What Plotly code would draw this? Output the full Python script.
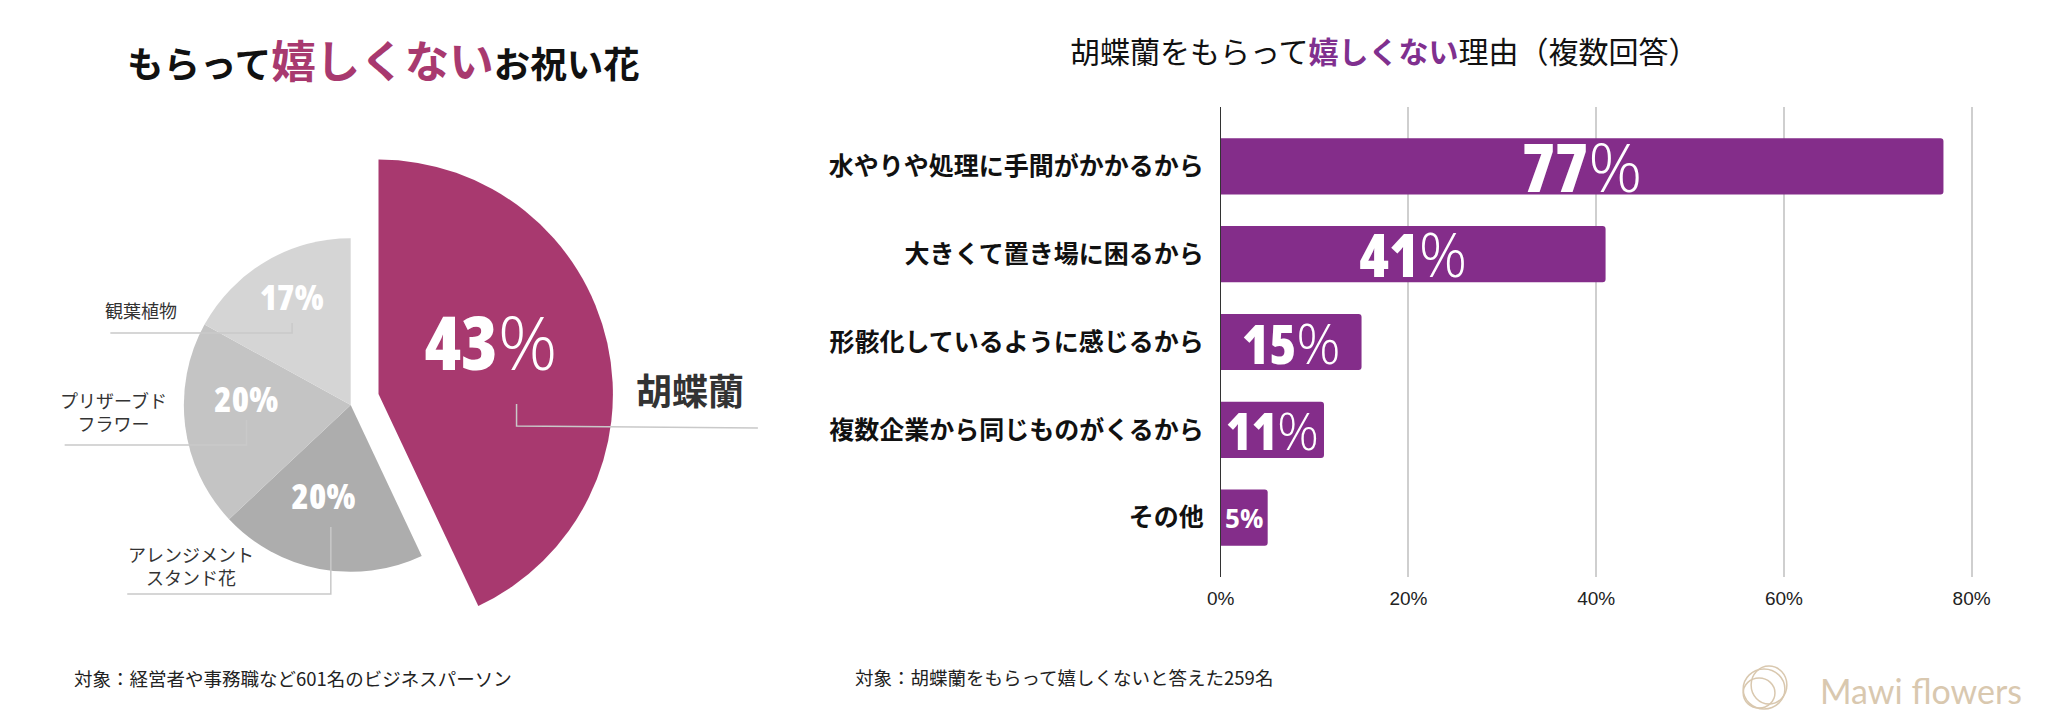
import plotly.graph_objects as go

W, H = 2062, 715

# ---------------- data ----------------
pie_labels = ["胡蝶蘭", "アレンジメント<br>スタンド花", "プリザーブド<br>フラワー", "観葉植物"]
pie_values = [43, 20, 20, 17]

bar_categories = [
    "水やりや処理に手間がかかるから",
    "大きくて置き場に困るから",
    "形骸化しているように感じるから",
    "複数企業から同じものがくるから",
    "その他",
]
bar_values = [77, 41, 15, 11, 5]
x_ticks = [0, 20, 40, 60, 80]
x_tick_labels = ["0%", "20%", "40%", "60%", "80%"]

# ---------------- style ----------------
MAGENTA = "#A8396F"
GRAYS = ["#ADADAD", "#C4C4C4", "#D5D5D5"]
PURPLE = "#842D8A"
TITLE_PURPLE = "#80308F"
LINE_GRAY = "#C9C9C9"
LOGO = "#D9C8AF"
CJK = "Noto Sans CJK JP"

NUM_SPAN = "<span style=\"font-family:Open Sans;font-stretch:75%;font-weight:800\">{}</span>"
PCT_THIN = "<span style=\"font-family:Open Sans;font-weight:300\">%</span>"
PCT_BOLD = "<span style=\"font-family:Open Sans;font-stretch:75%;font-weight:800\">%</span>"


def fx(px):
    return px / W


def fy(py):
    return 1 - py / H


widths = [v * 3.6 for v in pie_values]
centers = []
start = 0
for w in widths:
    centers.append(start + w / 2)
    start += w

R_RANGE = 240
R_SMALL = 168
R_BIG = 236

fig = go.Figure()

fig.add_trace(go.Barpolar(
    r=[R_SMALL] * 3, theta=centers[1:], width=widths[1:],
    marker=dict(color=GRAYS, line=dict(width=0)),
    subplot="polar", hoverinfo="skip",
))
fig.add_trace(go.Barpolar(
    r=[R_BIG], theta=centers[:1], width=widths[:1],
    marker=dict(color=MAGENTA, line=dict(width=0)),
    subplot="polar2", hoverinfo="skip",
))

gray_label_r = [100, 105, 120]
gray_label_dtheta = [5, 8, 1]
fig.add_trace(go.Scatterpolar(
    r=gray_label_r,
    theta=[c + d for c, d in zip(centers[1:], gray_label_dtheta)],
    mode="text",
    text=[NUM_SPAN.format(v) + PCT_BOLD for v in pie_values[1:]],
    textfont=dict(family="Open Sans", size=35, color="white"),
    subplot="polar", hoverinfo="skip",
))
fig.add_trace(go.Scatterpolar(
    r=[121], theta=[centers[0] - 8], mode="text",
    text=[NUM_SPAN.format(pie_values[0]) + PCT_THIN],
    textfont=dict(family="Open Sans", size=74, color="white"),
    subplot="polar2", hoverinfo="skip",
))

bar_text_sizes = [67, 60, 55, 52, 26]
bar_texts = [NUM_SPAN.format(v) + PCT_THIN for v in bar_values[:-1]] + \
            [f"<b>{bar_values[-1]}%</b>"]
fig.add_trace(go.Bar(
    x=bar_values, y=bar_categories, orientation="h",
    width=0.64,
    marker=dict(color=PURPLE, cornerradius=3, line=dict(width=0)),
    text=bar_texts,
    textposition="inside", insidetextanchor="middle", constraintext="none", textangle=0,
    textfont=dict(family="Open Sans", size=bar_text_sizes, color="white"),
    hoverinfo="skip",
))

polar_common = dict(
    bgcolor="rgba(0,0,0,0)",
    angularaxis=dict(rotation=90, direction="clockwise", visible=False),
    radialaxis=dict(range=[0, R_RANGE], visible=False),
    bargap=0,
)

gc = (339, 405)
mc = (367, 394)

X0 = 1215
PX_PER_PCT = (1971 - 1215) / 80

fig.update_layout(
    width=W, height=H,
    margin=dict(l=0, r=0, t=0, b=0),
    paper_bgcolor="white", plot_bgcolor="white",
    showlegend=False,
    polar=dict(domain=dict(x=[fx(gc[0] - R_RANGE), fx(gc[0] + R_RANGE)],
                           y=[fy(gc[1] + R_RANGE), fy(gc[1] - R_RANGE)]), **polar_common),
    polar2=dict(domain=dict(x=[fx(mc[0] - R_RANGE), fx(mc[0] + R_RANGE)],
                            y=[fy(mc[1] + R_RANGE), fy(mc[1] - R_RANGE)]), **polar_common),
    xaxis=dict(
        domain=[fx(X0), fx(X0 + 85 * PX_PER_PCT)],
        range=[0, 85], tickvals=x_ticks, ticktext=x_tick_labels,
        showgrid=True, gridcolor="#CFCFCF", gridwidth=1.5, zeroline=False,
        showline=False, ticks="", ticklabelstandoff=8,
        tickfont=dict(family="Liberation Sans", size=19, color="#222"),
        anchor="y", fixedrange=True,
    ),
    yaxis=dict(
        domain=[fy(577), fy(107)],
        range=[len(bar_categories) - 1 + 0.675, -0.675],
        showline=True, linecolor="#333", linewidth=1, showgrid=False,
        ticks="", ticklabelstandoff=11,
        tickfont=dict(family=CJK, size=25, color="#111", weight="bold"),
        anchor="x", fixedrange=True,
    ),
)

annotations = []


def ann(text, x, y, size, color="#111", xanchor="center", family=CJK, weight="normal", align="center"):
    annotations.append(dict(
        text=text, x=fx(x), y=fy(y), xref="paper", yref="paper",
        xanchor=xanchor, yanchor="middle", showarrow=False, align=align,
        font=dict(family=family, size=size, color=color, weight=weight),
    ))


ann(f"<b>もらって<span style=\"color:{MAGENTA};font-size:44.5px\">嬉しくない</span>お祝い花</b>",
    372, 59, 36.5, color="#111")
ann(f"胡蝶蘭をもらって<b><span style=\"color:{TITLE_PURPLE}\">嬉しくない</span></b>理由（複数回答）",
    1380, 50, 30, color="#111")

ann(pie_labels[3], 128, 310, 18, color="#333")
ann(pie_labels[2], 100, 411, 18, color="#333")
ann(pie_labels[1], 178, 565, 18, color="#333")
ann(f"<b>{pie_labels[0]}</b>", 681, 389, 36, color="#333")

ann("対象：経営者や事務職など601名のビジネスパーソン", 281, 678, 18.5, color="#222")
ann("対象：胡蝶蘭をもらって嬉しくないと答えた259名", 1057, 677, 18.5, color="#222")

ann("Mawi flowers", 1920, 690, 34, color=LOGO, family="Lato")

fig.update_layout(annotations=annotations)

leaders = [
    [(506, 404), (506, 426), (749, 428)],
    [(280, 323), (280, 333), (97, 333)],
    [(234, 420), (234, 445), (51, 445)],
    [(319, 527), (319, 594), (114, 594)],
]
shapes = []
for pts in leaders:
    path = "M " + " L ".join(f"{fx(x):.5f},{fy(y):.5f}" for x, y in pts)
    shapes.append(dict(type="path", path=path, xref="paper", yref="paper",
                       line=dict(color=LINE_GRAY, width=1.5)))

for cx, cy, rx, ry in [(1762, 689, 21, 20), (1767, 685, 18, 19), (1757, 693, 16, 15)]:
    shapes.append(dict(type="circle", xref="paper", yref="paper",
                       x0=fx(cx - rx), x1=fx(cx + rx), y0=fy(cy + ry), y1=fy(cy - ry),
                       line=dict(color=LOGO, width=1.5)))

fig.update_layout(shapes=shapes)

fig.write_html("out.html", config={"displayModeBar": False})
